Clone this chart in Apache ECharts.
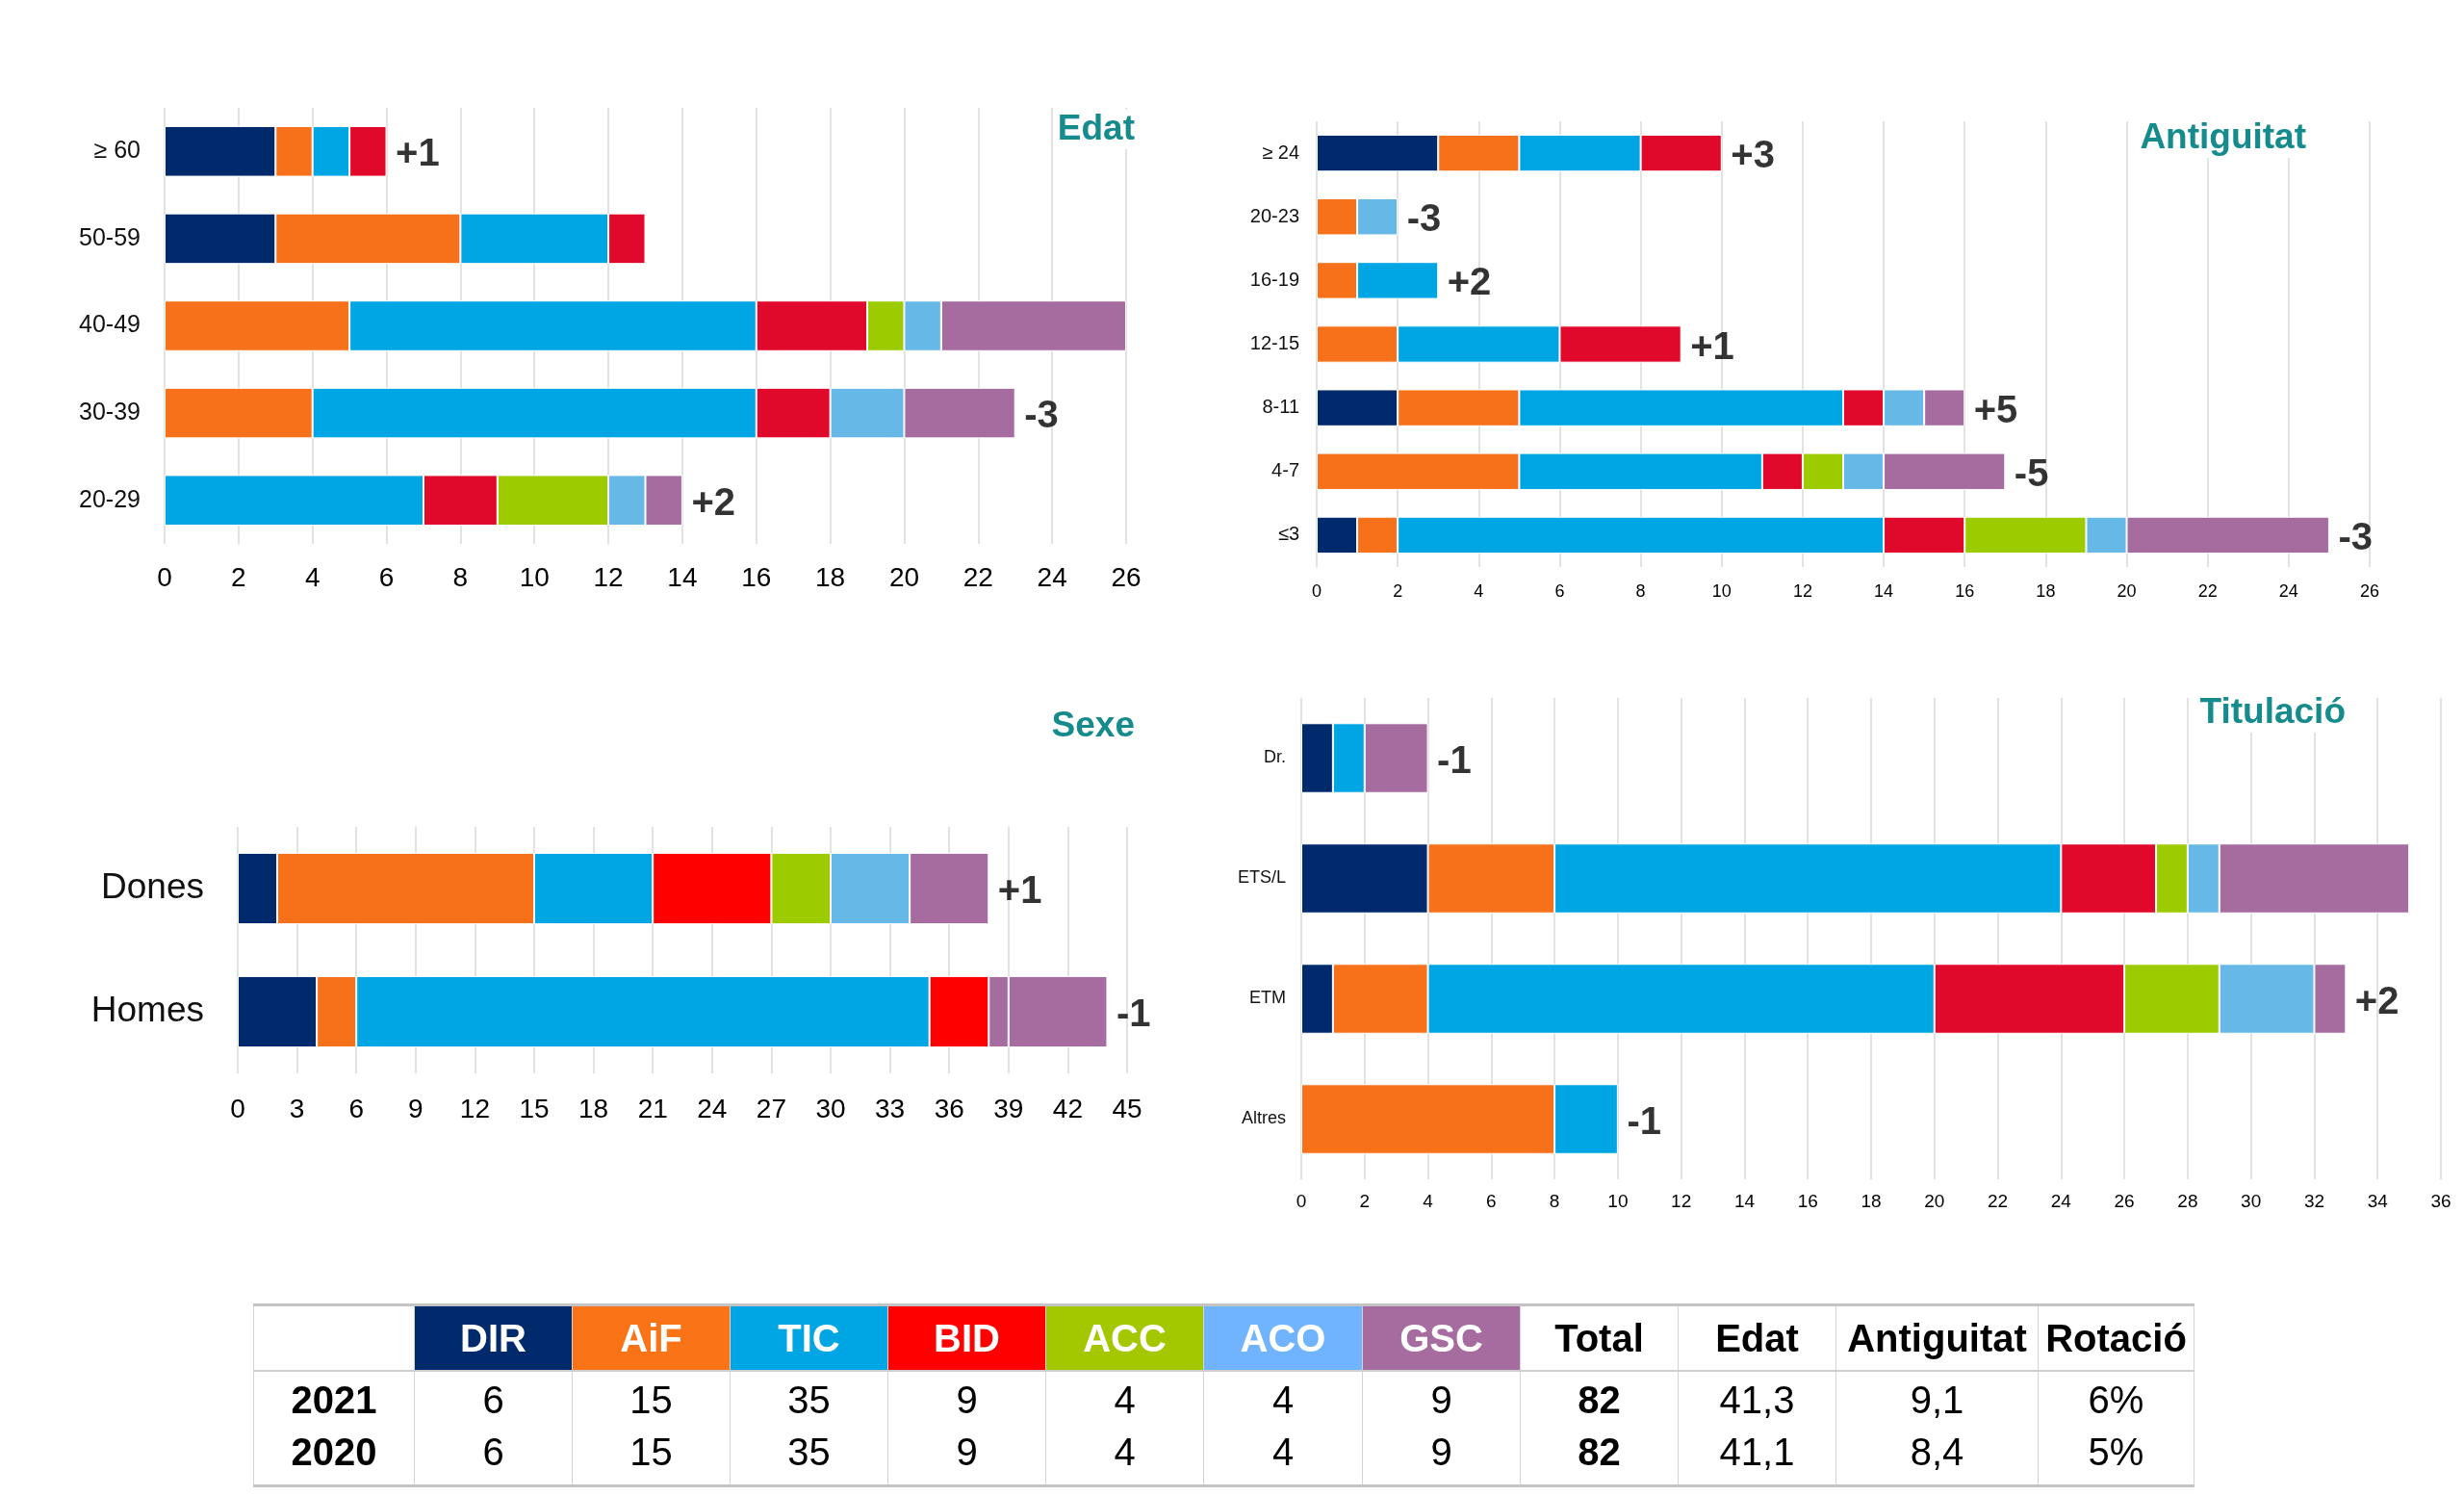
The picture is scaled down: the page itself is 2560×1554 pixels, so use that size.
<!DOCTYPE html>
<html>
<head>
<meta charset="utf-8">
<script src="https://cdn.jsdelivr.net/npm/echarts@6/dist/echarts.min.js"></script>
<style>
  html, body { margin: 0; padding: 0; background: #fff; }
  #chart { position: absolute; left: 0; top: 0; width: 2560px; height: 1554px; }
  #tbl {
    position: absolute; left: 263px; top: 1354px; width: 2017px;
    border-collapse: collapse; table-layout: fixed;
    font-family: "Liberation Sans", Arial, sans-serif; font-size: 40px; color: #000;
    border-top: 3px solid #c4c4c4; border-bottom: 3px solid #c4c4c4;
  }
  #tbl td { text-align: center; padding: 0; border-left: 1px solid #d4d4d4; border-right: 1px solid #d4d4d4; }
  #tbl tr.head td { height: 66px; font-weight: bold; border-bottom: 2px solid #cfcfcf; }
  #tbl tr.head td.col { color: #fff; }
  #tbl tr.r1 td { padding-top: 9px; line-height: 40px; }
  #tbl tr.r2 td { padding-top: 14px; padding-bottom: 14px; line-height: 40px; }
  #tbl td.b { font-weight: bold; }
</style>
</head>
<body>
<div id="chart"></div>
<table id="tbl"></table>
<script>
// 部门
const DEPTS = ['DIR', 'AiF', 'TIC', 'BID', 'ACC', 'ACO', 'GSC'];
const COLORS = ['#002a6c', '#f7711a', '#00a5e3', '#e1092b', '#9ccb00', '#66b9e6', '#a66ca0'];
const SEXE_COLORS = ['#002a6c', '#f7711a', '#00a5e3', '#ff0000', '#9ccb00', '#66b9e6', '#a66ca0'];
const HEAD_COLORS = ['#002a6c', '#fa7316', '#00a5e3', '#ff0000', '#a3c800', '#70b4ff', '#a66ca0'];

// Edat
const edatCats = ['≥ 60', '50-59', '40-49', '30-39', '20-29'];
const edatDIR = [3, 3, 0, 0, 0];
const edatAiF = [1, 5, 5, 4, 0];
const edatTIC = [1, 4, 11, 12, 7];
const edatBID = [1, 1, 3, 2, 2];
const edatACC = [0, 0, 1, 0, 3];
const edatACO = [0, 0, 1, 2, 1];
const edatGSC = [0, 0, 5, 3, 1];
const edatDelta = ['+1', '', '', '-3', '+2'];

// Antiguitat
const antCats = ['≥ 24', '20-23', '16-19', '12-15', '8-11', '4-7', '≤3'];
const antDIR = [3, 0, 0, 0, 2, 0, 1];
const antAiF = [2, 1, 1, 2, 3, 5, 1];
const antTIC = [3, 0, 2, 4, 8, 6, 12];
const antBID = [2, 0, 0, 3, 1, 1, 2];
const antACC = [0, 0, 0, 0, 0, 1, 3];
const antACO = [0, 1, 0, 0, 1, 1, 1];
const antGSC = [0, 0, 0, 0, 1, 3, 5];
const antDelta = ['+3', '-3', '+2', '+1', '+5', '-5', '-3'];

// Sexe
const sexeCats = ['Dones', 'Homes'];
const sexeDIR = [2, 4];
const sexeAiF = [13, 2];
const sexeTIC = [6, 29];
const sexeBID = [6, 3];
const sexeACC = [3, 1];
const sexeACO = [4, 0];
const sexeGSC = [4, 5];
const sexeDelta = ['+1', '-1'];

// Titulació
const titCats = ['Dr.', 'ETS/L', 'ETM', 'Altres'];
const titDIR = [1, 4, 1, 0];
const titAiF = [0, 4, 3, 8];
const titTIC = [1, 16, 16, 2];
const titBID = [0, 3, 6, 0];
const titACC = [0, 1, 3, 0];
const titACO = [0, 1, 3, 0];
const titGSC = [2, 6, 1, 0];
const titDelta = ['-1', '', '+2', '-1'];

// 表格
const tableHead = ['Total', 'Edat', 'Antiguitat', 'Rotació'];
const row2021 = ['2021', 6, 15, 35, 9, 4, 4, 9, 82, '41,3', '9,1', '6%'];
const row2020 = ['2020', 6, 15, 35, 9, 4, 4, 9, 82, '41,1', '8,4', '5%'];
const colWidths = [167, 164, 164, 164, 164, 164, 165, 164, 164, 164, 210, 162];

const FONT = '"Liberation Sans", Arial, sans-serif';

const panels = [
  { cats: edatCats, vals: [edatDIR, edatAiF, edatTIC, edatBID, edatACC, edatACO, edatGSC], delta: edatDelta,
    colors: COLORS, max: 26, interval: 2, grid: { left: 171, right: 1390, top: 112, height: 453 },
    xFont: 28, xMargin: 22, yFont: 25, yMargin: 25 },
  { cats: antCats, vals: [antDIR, antAiF, antTIC, antBID, antACC, antACO, antGSC], delta: antDelta,
    colors: COLORS, max: 26, interval: 2, grid: { left: 1368, right: 98, top: 126, height: 463 },
    xFont: 18, xMargin: 17, yFont: 20, yMargin: 18 },
  { cats: sexeCats, vals: [sexeDIR, sexeAiF, sexeTIC, sexeBID, sexeACC, sexeACO, sexeGSC], delta: sexeDelta,
    colors: SEXE_COLORS, max: 45, interval: 3, grid: { left: 247, right: 1389, top: 859, height: 256 },
    xFont: 28, xMargin: 24, yFont: 37, yMargin: 35 },
  { cats: titCats, vals: [titDIR, titAiF, titTIC, titBID, titACC, titACO, titGSC], delta: titDelta,
    colors: COLORS, max: 36, interval: 2, grid: { left: 1352, right: 24, top: 725, height: 500 },
    xFont: 19, xMargin: 14, yFont: 18, yMargin: 16 }
];

const grids = [], xAxes = [], yAxes = [], series = [];

panels.forEach((p, gi) => {
  grids.push(p.grid);
  xAxes.push({
    type: 'value', gridIndex: gi, min: 0, max: p.max, interval: p.interval,
    axisLine: { show: false }, axisTick: { show: false },
    splitLine: { lineStyle: { color: '#d9d9d9', width: 1.5 } },
    axisLabel: { fontSize: p.xFont, margin: p.xMargin, color: '#000', fontFamily: FONT }
  });
  yAxes.push({
    type: 'category', gridIndex: gi, data: p.cats, inverse: true,
    axisLine: { show: false }, axisTick: { show: false },
    axisLabel: { fontSize: p.yFont, margin: p.yMargin, color: '#111', fontFamily: FONT }
  });
  p.vals.forEach((arr, si) => {
    series.push({
      name: DEPTS[si], type: 'bar', stack: 'g' + gi,
      xAxisIndex: gi, yAxisIndex: gi, barCategoryGap: '42%',
      itemStyle: { color: p.colors[si], borderColor: '#fff', borderWidth: 1 },
      data: arr.map((v, ci) => {
        if (v === 0) return '-';
        // Homes: el segment ACC es veu del color GSC a l'original
        if (gi === 2 && si === 4 && ci === 1) return { value: v, itemStyle: { color: p.colors[6] } };
        return v;
      })
    });
  });
  const totals = p.cats.map((c, ci) => p.vals.reduce((s, arr) => s + arr[ci], 0));
  series.push({
    type: 'scatter', xAxisIndex: gi, yAxisIndex: gi, z: 10,
    symbolSize: 1, itemStyle: { color: 'rgba(0,0,0,0)' }, silent: true,
    label: {
      show: true, position: 'right', distance: 9, offset: [0, 4],
      formatter: q => q.data.delta,
      fontSize: 40, fontWeight: 'bold', color: '#000', fontFamily: FONT
    },
    data: p.delta.map((d, ci) => d ? { value: [totals[ci], ci], delta: d } : null).filter(Boolean)
  });
});

const titleStyle = { fontSize: 37, fontWeight: 'bold', color: '#168b8e', fontFamily: FONT };
const titles = [
  { text: 'Edat', right: 1377, top: 114 },
  { text: 'Antiguitat', right: 160, top: 123 },
  { text: 'Sexe', right: 1377, top: 734 },
  { text: 'Titulació', right: 119, top: 720 }
].map(t => ({ ...t, backgroundColor: '#fff', padding: [2, 4], textStyle: titleStyle }));

const chart = echarts.init(document.getElementById('chart'));
chart.setOption({
  animation: false,
  backgroundColor: '#fff',
  title: titles,
  grid: grids,
  xAxis: xAxes,
  yAxis: yAxes,
  series: series
});

// 表格
const tbl = document.getElementById('tbl');
let html = '<colgroup>' + colWidths.map(w => `<col style="width:${w}px">`).join('') + '</colgroup>';
html += '<tr class="head"><td></td>' +
  DEPTS.map((d, i) => `<td class="col" style="background:${HEAD_COLORS[i]}">${d}</td>`).join('') +
  tableHead.map(h => `<td>${h}</td>`).join('') + '</tr>';
[row2021, row2020].forEach((row, ri) => {
  html += `<tr class="r${ri + 1}">` +
    row.map((v, i) => `<td class="${i === 0 || i === 8 ? 'b' : ''}">${v}</td>`).join('') + '</tr>';
});
tbl.innerHTML = html;
</script>
</body>
</html>
